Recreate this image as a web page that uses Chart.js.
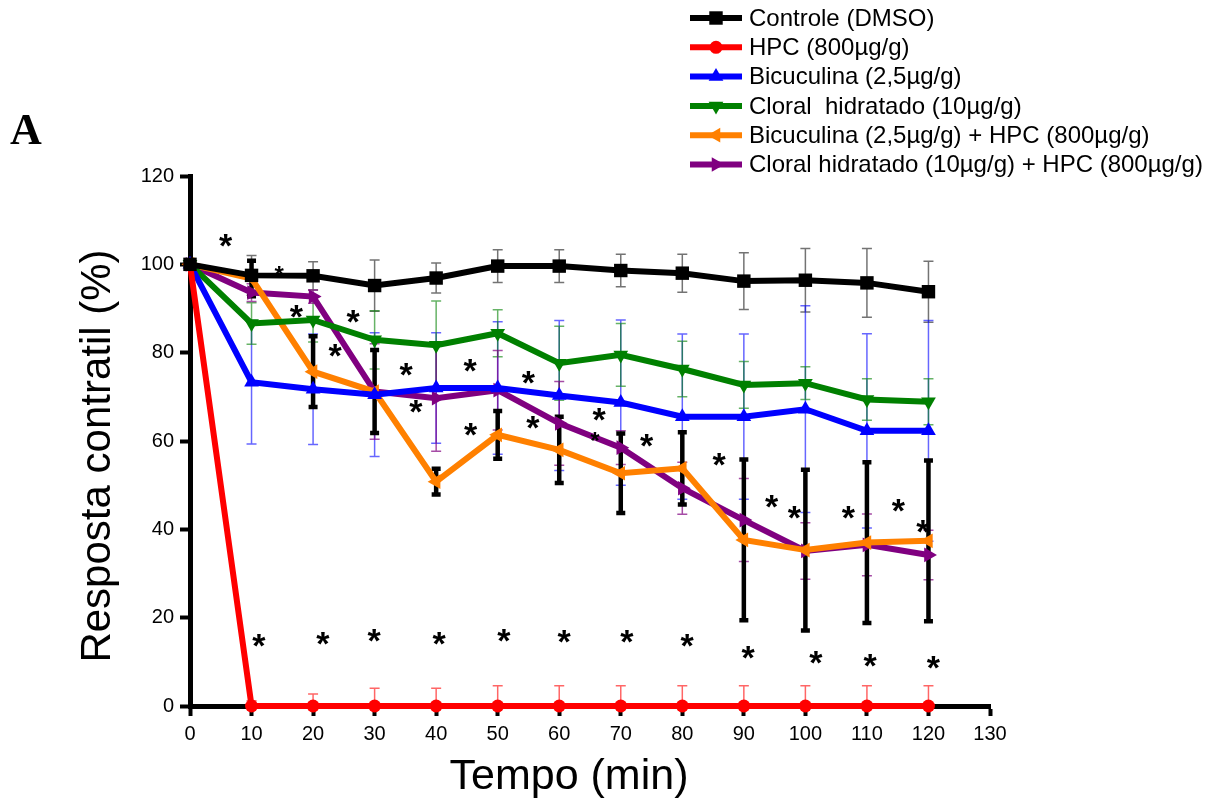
<!DOCTYPE html>
<html>
<head>
<meta charset="utf-8">
<script src="https://cdn.jsdelivr.net/npm/chart.js@4.4.1/dist/chart.umd.min.js"></script>
<style>
    body { margin: 0; background: #fff; }
    canvas { display: block; }
</style>
</head>
<body>
<canvas id="chart" width="1209" height="800"></canvas>
<script>
// time points (min)
const minutes = [0, 10, 20, 30, 40, 50, 60, 70, 80, 90, 100, 110, 120]

// mean contractile response (%) per group
const controle = [100, 97.5, 97.4, 95.2, 96.9, 99.6, 99.6, 98.6, 98.0, 96.2, 96.4, 95.8, 93.8]
const hpc = [100, 0, 0, 0, 0, 0, 0, 0, 0, 0, 0, 0, 0]
const bicuculina = [100, 73.3, 71.7, 70.5, 72, 72, 70.3, 68.7, 65.5, 65.5, 67.2, 62.3, 62.3]
const cloral = [100, 86.6, 87.4, 82.9, 81.7, 84.4, 77.6, 79.5, 76.3, 72.7, 73.1, 69.4, 68.9]
const bicHpc = [100, 96.8, 75.7, 71.2, 50.8, 61.4, 58, 52.7, 53.8, 37.6, 35.3, 37, 37.4]
const cloralHpc = [100, 93.6, 92.7, 71.2, 69.7, 71.5, 64, 58.5, 49.3, 42.1, 35.1, 36.5, 34.2]

// error bar half-lengths
const controleErr = [0, 4.5, 3.2, 5.8, 3.4, 3.7, 3.7, 3.7, 4.3, 6.4, 7.2, 7.8, 6.9]
const hpcErr = [0, 1.2, 2.7, 4, 4, 4.6, 4.6, 4.6, 4.6, 4.6, 4.6, 4.6, 4.6]
const bicuculinaErr = [0, 14, 12.5, 14, 12.5, 15, 17, 18.7, 18.7, 18.7, 23.4, 22, 25]
const cloralErr = [0, 4.7, 5, 6.6, 10, 5.3, 8.4, 7.1, 6.3, 5.3, 3.7, 4.7, 5.2]
const bicHpcErr = [0, 4, 8, 9.4, 2.9, 5.4, 7.5, 9, 8.2, 18.2, 18.2, 18.2, 18.2]
const cloralHpcErr = [0, 2, 1.5, 10.8, 12, 9, 9.5, 3.8, 5.9, 9.4, 6.4, 7, 5.6]

// significance marks, [min, %]
const asterisks = [
    [5.8, 105.9], [17.3, 89.8], [26.5, 88.8], [23.6, 81], [35.1, 76.8], [36.7, 68.2],
    [45.5, 77.6], [45.6, 63.2], [55, 74.9], [55.7, 64.6], [66.5, 66.4], [74.2, 60.6],
    [86, 56.3], [94.5, 46.8], [98.2, 44.2], [107, 44.4], [115.1, 45.9], [119.1, 41.2],
    [11.2, 15.3], [21.6, 15.8], [29.9, 16.5], [40.5, 15.7], [51, 16.5], [60.8, 16.3],
    [71, 16.3], [80.8, 15.3], [90.7, 12.7], [101.7, 11.5], [110.5, 10.8], [120.8, 10.3],
]
const smallAsterisks = [[14.5, 98.7], [65.8, 61.1]]

const xTicks = [0, 10, 20, 30, 40, 50, 60, 70, 80, 90, 100, 110, 120, 130]
const yTicks = [0, 20, 40, 60, 80, 100, 120]

const FONT = "'Liberation Sans', Arial, sans-serif"

const toPoints = (vals) => minutes.map((m, i) => ({ x: m, y: vals[i] }))

const series = [
    { label: "Controle (DMSO)", data: controle, color: "#000000", style: "rect", rotation: 0, radius: 9.5 },
    { label: "HPC (800µg/g)", data: hpc, color: "#ff0000", style: "circle", rotation: 0, radius: 6.5 },
    { label: "Bicuculina (2,5µg/g)", data: bicuculina, color: "#0000ff", style: "triangle", rotation: 0, radius: 8.5 },
    { label: "Cloral  hidratado (10µg/g)", data: cloral, color: "#008000", style: "triangle", rotation: 180, radius: 8.5 },
    { label: "Bicuculina (2,5µg/g) + HPC (800µg/g)", data: bicHpc, color: "#ff8000", style: "triangle", rotation: 270, radius: 8.5 },
    { label: "Cloral hidratado (10µg/g) + HPC (800µg/g)", data: cloralHpc, color: "#800080", style: "triangle", rotation: 90, radius: 8.5 },
]

// thin coloured bars for most groups, thick black bars for Bicuculina + HPC
const errorSets = [
    { values: controle, err: controleErr, color: "rgba(0,0,0,0.55)", width: 1.5, cap: 10 },
    { values: hpc, err: hpcErr, color: "rgba(255,0,0,0.6)", width: 1.5, cap: 10, upOnly: true },
    { values: bicuculina, err: bicuculinaErr, color: "rgba(0,0,255,0.6)", width: 1.5, cap: 10 },
    { values: cloral, err: cloralErr, color: "rgba(0,128,0,0.6)", width: 1.5, cap: 10 },
    { values: cloralHpc, err: cloralHpcErr, color: "rgba(128,0,128,0.7)", width: 1.5, cap: 10 },
    { values: bicHpc, err: bicHpcErr, color: "#000000", width: 4.5, cap: 9 },
]

const errorBarPlugin = {
    id: "errorBars",
    beforeDatasetsDraw(chart) {
        const { ctx, scales: { x, y } } = chart
        errorSets.forEach(set => {
            ctx.save()
            ctx.strokeStyle = set.color
            ctx.lineWidth = set.width
            minutes.forEach((m, i) => {
                const e = set.err[i]
                if (!e) return
                const v = set.values[i]
                const px = x.getPixelForValue(m)
                const top = y.getPixelForValue(v + e)
                const bot = y.getPixelForValue(set.upOnly ? v : v - e)
                ctx.beginPath()
                ctx.moveTo(px, top)
                ctx.lineTo(px, bot)
                ctx.moveTo(px - set.cap / 2, top)
                ctx.lineTo(px + set.cap / 2, top)
                if (!set.upOnly) {
                    ctx.moveTo(px - set.cap / 2, bot)
                    ctx.lineTo(px + set.cap / 2, bot)
                }
                ctx.stroke()
            })
            ctx.restore()
        })
    },
}

function drawMarker(ctx, s, cx, cy) {
    ctx.save()
    ctx.translate(cx, cy)
    ctx.rotate(s.rotation * Math.PI / 180)
    ctx.fillStyle = s.color
    ctx.beginPath()
    const r = s.radius
    if (s.style === "rect") {
        const h = r * Math.SQRT1_2
        ctx.rect(-h, -h, 2 * h, 2 * h)
    } else if (s.style === "circle") {
        ctx.arc(0, 0, r, 0, Math.PI * 2)
    } else {
        ctx.moveTo(0, -r)
        ctx.lineTo(r * 0.866, r * 0.5)
        ctx.lineTo(-r * 0.866, r * 0.5)
        ctx.closePath()
    }
    ctx.fill()
    ctx.restore()
}

const annotationPlugin = {
    id: "annotations",
    afterDraw(chart) {
        const { ctx, scales: { x, y } } = chart
        ctx.save()
        ctx.fillStyle = "#000"
        ctx.textAlign = "center"
        ctx.textBaseline = "alphabetic"

        // asterisks
        ctx.font = `bold 34px ${FONT}`
        asterisks.forEach(([m, v]) => {
            ctx.fillText("*", x.getPixelForValue(m), y.getPixelForValue(v) + 34 * 0.55)
        })
        ctx.font = `bold 24px ${FONT}`
        smallAsterisks.forEach(([m, v]) => {
            ctx.fillText("*", x.getPixelForValue(m), y.getPixelForValue(v) + 24 * 0.55)
        })

        // axis titles
        ctx.font = `43px ${FONT}`
        ctx.fillText("Tempo (min)", 569, 789)
        ctx.save()
        ctx.translate(110, 456)
        ctx.rotate(-Math.PI / 2)
        ctx.font = `42px ${FONT}`
        ctx.fillText("Resposta contratil (%)", 0, 0)
        ctx.restore()

        // panel letter
        ctx.textAlign = "left"
        ctx.font = "bold 44px 'Liberation Serif', 'Times New Roman', serif"
        ctx.fillText("A", 10, 144)

        // legend
        ctx.font = `24px ${FONT}`
        ctx.textBaseline = "middle"
        series.forEach((s, i) => {
            const cy = 18 + i * 29.3
            ctx.strokeStyle = s.color
            ctx.lineWidth = 6
            ctx.beginPath()
            ctx.moveTo(690, cy)
            ctx.lineTo(742, cy)
            ctx.stroke()
            drawMarker(ctx, s, 716, cy)
            ctx.fillStyle = "#000"
            ctx.fillText(s.label, 749, cy + 1)
        })
        ctx.restore()
    },
}

new Chart(document.getElementById("chart"), {
    type: "line",
    data: {
        datasets: series.map(s => ({
            label: s.label,
            data: toPoints(s.data),
            borderColor: s.color,
            backgroundColor: s.color,
            borderWidth: 6,
            pointStyle: s.style,
            pointRotation: s.rotation,
            pointRadius: s.radius,
            pointBorderWidth: 0,
            tension: 0,
            clip: 12,
        })),
    },
    options: {
        responsive: false,
        animation: false,
        devicePixelRatio: 1,
        layout: { padding: { left: 40, right: 219, top: 176, bottom: 0 } },
        plugins: { legend: { display: false }, tooltip: { enabled: false } },
        scales: {
            x: {
                type: "linear",
                min: 0,
                max: 130,
                afterFit: (scale) => { scale.height = 94 },
                afterBuildTicks: (scale) => { scale.ticks = xTicks.map(v => ({ value: v })) },
                grid: { display: true, drawOnChartArea: false, drawTicks: true, tickLength: 10, tickWidth: 4, tickColor: "#000" },
                border: { display: true, width: 5, color: "#000" },
                ticks: { color: "#000", font: { family: FONT, size: 20 }, padding: 6, maxRotation: 0 },
            },
            y: {
                min: 0,
                max: 120,
                afterFit: (scale) => { scale.width = 150 },
                afterBuildTicks: (scale) => { scale.ticks = yTicks.map(v => ({ value: v })) },
                grid: { display: true, drawOnChartArea: false, drawTicks: true, tickLength: 10, tickWidth: 4, tickColor: "#000" },
                border: { display: true, width: 5, color: "#000" },
                ticks: { color: "#000", font: { family: FONT, size: 20 }, padding: 6 },
            },
        },
    },
    plugins: [errorBarPlugin, annotationPlugin],
})
</script>
</body>
</html>
